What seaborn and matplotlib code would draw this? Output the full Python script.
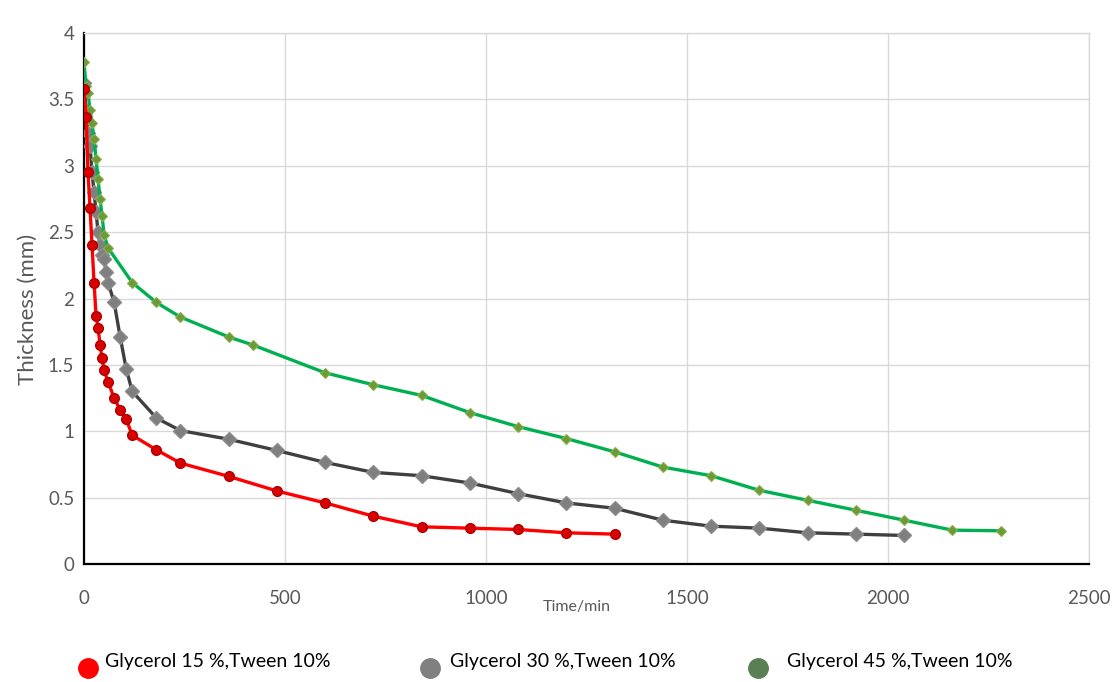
import numpy as np
import pandas as pd
import matplotlib
matplotlib.use("Agg")
import matplotlib.pyplot as plt
import seaborn as sns
from matplotlib.lines import Line2D

# ---- data ----
t_g15 = [0, 5, 10, 15, 20, 25, 30, 35, 40, 45, 50, 60, 75, 90, 105, 120,
         180, 240, 360, 480, 600, 720, 840, 960, 1080, 1200, 1320]
y_g15 = [3.58, 3.37, 2.95, 2.68, 2.40, 2.12, 1.87, 1.78, 1.65, 1.55, 1.46, 1.37,
         1.25, 1.16, 1.09, 0.97, 0.86, 0.76, 0.66, 0.55, 0.46, 0.36, 0.28, 0.27,
         0.26, 0.235, 0.225]

t_g30 = [0, 5, 10, 15, 20, 25, 30, 35, 40, 45, 50, 55, 60, 75, 90, 105, 120,
         180, 240, 360, 480, 600, 720, 840, 960, 1080, 1200, 1320, 1440, 1560,
         1680, 1800, 1920, 2040]
y_g30 = [3.62, 3.42, 3.25, 3.15, 2.95, 2.80, 2.65, 2.50, 2.40, 2.33, 2.30, 2.20,
         2.12, 1.97, 1.71, 1.47, 1.30, 1.10, 1.005, 0.94, 0.855, 0.765, 0.69,
         0.665, 0.61, 0.53, 0.46, 0.42, 0.33, 0.285, 0.27, 0.235, 0.225, 0.215]

t_g45 = [0, 5, 10, 15, 20, 25, 30, 35, 40, 45, 50, 60, 120, 180, 240, 360, 420,
         600, 720, 840, 960, 1080, 1200, 1320, 1440, 1560, 1680, 1800, 1920,
         2040, 2160, 2280]
y_g45 = [3.78, 3.60, 3.55, 3.42, 3.32, 3.20, 3.05, 2.90, 2.75, 2.62, 2.48, 2.38,
         2.12, 1.97, 1.86, 1.71, 1.65, 1.44, 1.35, 1.27, 1.14, 1.035, 0.945,
         0.845, 0.73, 0.665, 0.555, 0.48, 0.405, 0.33, 0.255, 0.25]

labels = ["Glycerol 15 %,Tween 10%", "Glycerol 30 %,Tween 10%",
          "Glycerol 45 %,Tween 10%"]
x_ticks = [0, 500, 1000, 1500, 2000, 2500]
y_ticks = [0, 0.5, 1, 1.5, 2, 2.5, 3, 3.5, 4]
y_ticklabels = ["0", "0.5", "1", "1.5", "2", "2.5", "3", "3.5", "4"]

# ---- style ----
sns.set_theme(style="white")
plt.rcParams["font.family"] = ["Lato", "DejaVu Sans"]

fig = plt.figure(figsize=(11.14, 6.82), dpi=100)
ax = fig.add_axes([84 / 1114, 1 - 564 / 682, (1089 - 84) / 1114, (564 - 33) / 682])

df15 = pd.DataFrame({"t": t_g15, "y": y_g15})
df30 = pd.DataFrame({"t": t_g30, "y": y_g30})
df45 = pd.DataFrame({"t": t_g45, "y": y_g45})

sns.lineplot(data=df30, x="t", y="y", ax=ax, sort=False, color="#3f3f3f",
             linewidth=2.4, marker="D", markersize=7, markerfacecolor="#7f7f7f",
             markeredgecolor="#8c8c8c", markeredgewidth=1, zorder=3)
sns.lineplot(data=df45, x="t", y="y", ax=ax, sort=False, color="#00b050",
             linewidth=2.4, marker="D", markersize=5.5, markerfacecolor="#6a9a3a",
             markeredgecolor="#8ab04a", markeredgewidth=0.8, zorder=4)
sns.lineplot(data=df15, x="t", y="y", ax=ax, sort=False, color="#ff0000",
             linewidth=2.4, marker="o", markersize=7, markerfacecolor="#d80000",
             markeredgecolor="#b00000", markeredgewidth=1, zorder=5)

ax.set_xlim(0, 2500)
ax.set_ylim(0, 4)
ax.set_xticks(x_ticks)
ax.set_xticklabels([str(v) for v in x_ticks])
ax.set_yticks(y_ticks)
ax.set_yticklabels(y_ticklabels)
ax.grid(True, color="#d9d9d9", linewidth=1)
ax.set_axisbelow(True)

for s in ["top", "right"]:
    ax.spines[s].set_color("#d9d9d9")
    ax.spines[s].set_linewidth(1)
for s in ["left", "bottom"]:
    ax.spines[s].set_color("black")
    ax.spines[s].set_linewidth(1.6)

ax.tick_params(axis="both", length=0, labelsize=13.5, labelcolor="#595959")
ax.tick_params(axis="y", pad=7)
ax.tick_params(axis="x", pad=19)

ax.set_xlabel("Time/min", fontsize=11.5, color="#595959")
ax.set_ylabel("Thickness (mm)", fontsize=16, color="#595959")
ax.xaxis.set_label_coords((577 - 84) / (1089 - 84), -(607 - 564) / (564 - 33))
ax.yaxis.set_label_coords(-(84 - 28) / (1089 - 84), 0.48)
ax.xaxis.label.set_va("center")
ax.yaxis.label.set_va("center")

# ---- legend (bottom, manual placement) ----
leg_colors = ["#ff0000", "#808080", "#5b7f55"]
leg_mx = [88, 430, 758]
leg_tx = [105, 450, 787]
for c, mx, tx, lab in zip(leg_colors, leg_mx, leg_tx, labels):
    fig.add_artist(Line2D([mx / 1114], [1 - 668 / 682], marker="o", markersize=14,
                          color=c, linestyle="none", transform=fig.transFigure))
    fig.text(tx / 1114, 1 - 662 / 682, lab, fontsize=14, color="black",
             va="center", ha="left")

fig.savefig("out.png", dpi=100, facecolor="white")
